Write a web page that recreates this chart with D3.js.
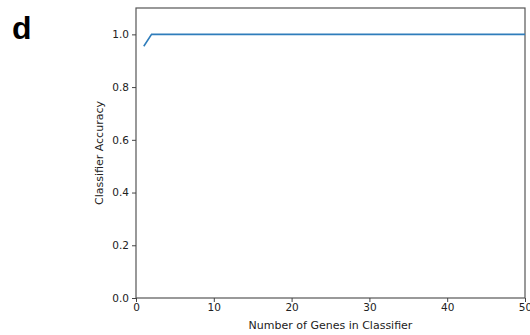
<!DOCTYPE html>
<html>
<head>
<meta charset="utf-8">
<script src="https://cdn.jsdelivr.net/npm/d3@7"></script>
<style>
  body { margin: 0; background: #fff; }
  text { font-family: "DejaVu Sans", sans-serif; fill: #222; }
</style>
</head>
<body>
<div id="chart"></div>
<script>
// number of genes in the classifier
const genes = [1, 2, 3, 4, 5, 6, 7, 8, 9, 10, 11, 12, 13, 14, 15, 16, 17, 18, 19, 20,
    21, 22, 23, 24, 25, 26, 27, 28, 29, 30, 31, 32, 33, 34, 35, 36, 37, 38, 39, 40,
    41, 42, 43, 44, 45, 46, 47, 48, 49, 50];
// accuracy
const accuracy = [0.955, 1, 1, 1, 1, 1, 1, 1, 1, 1, 1, 1, 1, 1, 1, 1, 1, 1, 1, 1,
    1, 1, 1, 1, 1, 1, 1, 1, 1, 1, 1, 1, 1, 1, 1, 1, 1, 1, 1, 1,
    1, 1, 1, 1, 1, 1, 1, 1, 1, 1];
const xTicks = [0, 10, 20, 30, 40, 50];
const yTicks = [0.0, 0.2, 0.4, 0.6, 0.8, 1.0];

const w = 530;
const h = 335;
const margin = { left: 136, right: 5, top: 8, bottom: 37 };

const svg = d3.select('#chart')
    .append('svg')
    .attr('width', w)
    .attr('height', h);

const xScale = d3.scaleLinear()
    .domain([0, 50])
    .range([margin.left, w - margin.right]);

const yScale = d3.scaleLinear()
    .domain([0, 1.1])
    .range([h - margin.bottom, margin.top]);

// panel letter
svg.append('text')
    .attr('x', 12)
    .attr('y', 39)
    .style('font-family', 'Liberation Sans, Arial, sans-serif')
    .style('font-weight', 'bold')
    .style('font-size', '32px')
    .style('fill', '#000')
    .text('d');

// frame
svg.append('rect')
    .attr('x', margin.left)
    .attr('y', margin.top)
    .attr('width', w - margin.left - margin.right)
    .attr('height', h - margin.top - margin.bottom)
    .attr('fill', 'none')
    .attr('stroke', '#555')
    .attr('stroke-width', 1.2);

// axes
const xAxis = d3.axisBottom(xScale).tickValues(xTicks).tickFormat(d3.format('d')).tickSizeOuter(0).tickSize(4).tickPadding(2);
const yAxis = d3.axisLeft(yScale).tickValues(yTicks).tickFormat(d3.format('.1f')).tickSizeOuter(0).tickSize(4).tickPadding(3);

const gx = svg.append('g')
    .attr('transform', `translate(0, ${h - margin.bottom})`)
    .call(xAxis);

const gy = svg.append('g')
    .attr('transform', `translate(${margin.left}, 0)`)
    .call(yAxis);

[gx, gy].forEach(g => {
    g.select('.domain').remove();
    g.selectAll('line').attr('stroke', '#444');
    g.selectAll('text').style('font-size', '10.5px').style('font-family', 'DejaVu Sans, sans-serif').attr('fill', '#222');
});

// labels
svg.append('text')
    .attr('x', (margin.left + w - margin.right) / 2)
    .attr('y', 329)
    .attr('text-anchor', 'middle')
    .style('font-size', '11px')
    .text('Number of Genes in Classifier');

svg.append('text')
    .attr('transform', `translate(103, ${(margin.top + h - margin.bottom) / 2}) rotate(-90)`)
    .attr('text-anchor', 'middle')
    .style('font-size', '11px')
    .text('Classifier Accuracy');

// line
const line = d3.line()
    .x((d, i) => xScale(genes[i]))
    .y(d => yScale(d));

svg.append('path')
    .datum(accuracy)
    .attr('d', line)
    .attr('fill', 'none')
    .attr('stroke', '#2f7dbb')
    .attr('stroke-width', 1.6);
</script>
</body>
</html>
